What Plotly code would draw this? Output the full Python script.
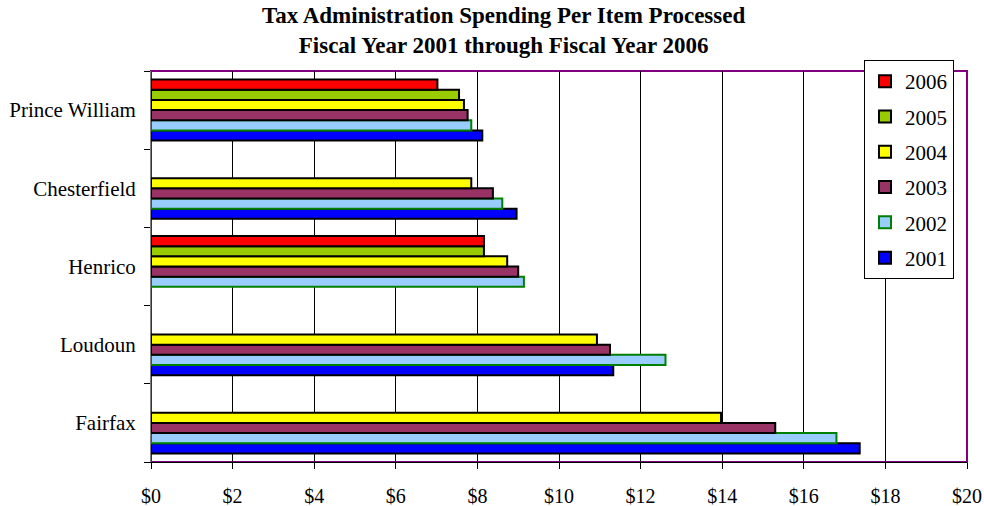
import plotly.graph_objects as go

categories = ["Fairfax", "Loudoun", "Henrico", "Chesterfield", "Prince William"]
years = ["2001", "2002", "2003", "2004", "2005", "2006"]
v2001 = [17.37, 11.33, None, 8.96, 8.12]
v2002 = [16.80, 12.61, 9.14, 8.61, 7.85]
v2003 = [15.30, 11.25, 9.00, 8.38, 7.76]
v2004 = [13.97, 10.93, 8.73, 7.85, 7.67]
v2005 = [None, None, 8.16, None, 7.55]
v2006 = [None, None, 8.16, None, 7.02]
values = [v2001, v2002, v2003, v2004, v2005, v2006]
fill_colors = ["#0000FF", "#99CCFF", "#993366", "#FFFF00", "#99CC00", "#FF0000"]
line_colors = ["#000000", "#008000", "#000000", "#000000", "#000000", "#000000"]
x_tickvals = list(range(0, 21, 2))
x_ticktext = ["$" + str(v) for v in x_tickvals]
title_text = "<b>Tax Administration Spending Per Item Processed<br>Fiscal Year 2001 through Fiscal Year 2006</b>"

FONT = "Liberation Serif, Times New Roman, serif"
L, R, T, B = 151, 17, 71, 44
PW = 984 - L - R
PH = 506 - T - B

fig = go.Figure()
for i, (yr, vals, fc, lc) in enumerate(zip(years, values, fill_colors, line_colors)):
    fig.add_trace(go.Bar(
        y=categories, x=vals, name=yr, orientation="h",
        marker=dict(color=fc, line=dict(color=lc, width=2)),
        legendgroup=yr, legendrank=len(years) - i,
    ))

fig.update_layout(
    width=984, height=506,
    margin=dict(l=L, r=R, t=T, b=B, autoexpand=False),
    paper_bgcolor="white", plot_bgcolor="white",
    barmode="group", bargap=0.22, bargroupgap=0,
    font=dict(family=FONT, color="black", size=20),
    showlegend=True,
    legend=dict(
        x=(864 - L) / PW, y=(506 - B - 60) / PH, xanchor="left", yanchor="top",
        traceorder="grouped", tracegroupgap=5,
        bgcolor="white", bordercolor="black", borderwidth=1,
        font=dict(family=FONT, size=21, color="black"),
        itemwidth=30,
    ),
    xaxis=dict(
        range=[0, 20], tickvals=x_tickvals, ticktext=x_ticktext,
        showgrid=True, gridcolor="black", gridwidth=1,
        showline=True, linecolor="black", linewidth=1,
        ticks="outside", ticklen=6, tickcolor="black",
        zeroline=False, fixedrange=True, ticklabelstandoff=10,
        ticklabeloverflow="allow",
        tickfont=dict(family=FONT, size=20),
    ),
    yaxis=dict(
        showgrid=False, showline=True, linecolor="#808080", linewidth=1,
        ticks="outside", ticklen=6, tickcolor="black", tickson="boundaries",
        zeroline=False, fixedrange=True, ticklabelstandoff=10,
        tickfont=dict(family=FONT, size=21),
    ),
    shapes=[dict(type="rect", xref="paper", yref="paper", x0=0, x1=1, y0=0, y1=1,
                 line=dict(color="#800080", width=2), layer="below")],
    annotations=[dict(
        text=title_text, xref="paper", yref="paper",
        x=(503 - L) / PW, y=(506 - B - 1) / PH, xanchor="center", yanchor="top",
        showarrow=False, align="center",
        font=dict(family=FONT, size=23, color="black"),
    )],
)

fig.write_html("out.html", config={"displayModeBar": False},
               post_script="document.body.style.margin='0';document.body.style.padding='0';")
